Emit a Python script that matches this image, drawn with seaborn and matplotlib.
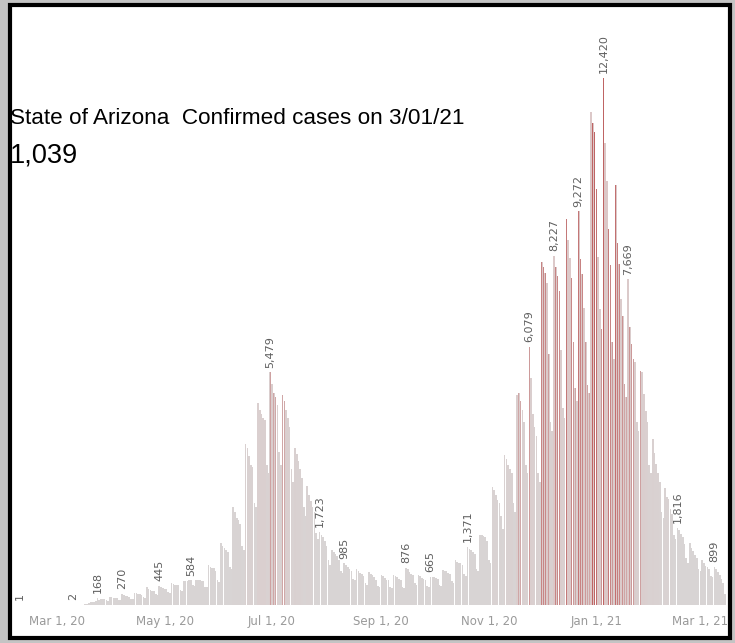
import numpy as np
import pandas as pd
import seaborn as sns
import matplotlib
matplotlib.use("Agg")
import matplotlib.pyplot as plt
from matplotlib.colors import LinearSegmentedColormap, Normalize
from matplotlib.patches import Rectangle

# daily confirmed cases, one value per day starting at start_date
start_date = "2020-02-09"
daily_cases = [
    1, 0,
    0, 0, 0, 0, 0, 0, 0,
    0, 0, 0, 0, 0, 0, 0,
    0, 0, 0, 0, 0, 0, 0,
    0, 0, 0, 0, 0, 0, 0,
    2, 0, 1, 0, 3, 5, 8,
    20, 30, 45, 60, 75, 80, 90,
    168, 120, 130, 140, 150, 110, 100,
    190, 180, 170, 165, 160, 120, 110,
    270, 230, 220, 210, 200, 150, 140,
    290, 280, 270, 250, 240, 180, 170,
    420, 380, 350, 330, 320, 260, 240,
    445, 420, 400, 380, 370, 300, 280,
    520, 500, 480, 470, 460, 360, 340,
    560, 570, 575, 580, 584, 470, 440,
    590, 585, 580, 575, 570, 430, 420,
    950, 900, 880, 860, 800, 600, 550,
    1460, 1400, 1340, 1300, 1250, 900, 850,
    2300, 2200, 2050, 2000, 1900, 1400, 1300,
    3800, 3700, 3500, 3300, 3250, 2400, 2300,
    4750, 4600, 4500, 4400, 4350, 3300, 3100,
    5479, 5200, 5000, 4900, 4700, 3600, 3300,
    4950, 4800, 4600, 4400, 4200, 3200, 2900,
    3700, 3550, 3400, 3200, 3000, 2300, 2100,
    2800, 2600, 2450, 2300, 2200, 1700, 1550,
    1723, 1650, 1600, 1500, 1400, 1050, 950,
    1300, 1250, 1200, 1150, 1050, 800, 750,
    985, 950, 900, 850, 800, 620, 580,
    850, 800, 760, 720, 680, 520, 480,
    780, 740, 700, 660, 600, 450, 420,
    700, 680, 640, 600, 580, 420, 400,
    700, 690, 660, 620, 580, 430, 400,
    876, 840, 780, 740, 700, 520, 480,
    700, 680, 640, 610, 600, 450, 420,
    665, 660, 650, 640, 620, 470, 440,
    820, 810, 790, 760, 740, 560, 520,
    1050, 1020, 1000, 980, 950, 720, 680,
    1371, 1330, 1300, 1250, 1200, 850, 800,
    1660, 1650, 1620, 1600, 1500, 1070, 1000,
    2780, 2700, 2600, 2480, 2400, 2100, 1800,
    3540, 3450, 3300, 3200, 3100, 2400, 2200,
    4950, 5000, 4800, 4600, 4300, 3290, 3100,
    6079, 5340, 4500, 4200, 3970, 3100, 2900,
    8075, 7950, 7825, 7590, 5900, 4300, 4100,
    8227, 7950, 7750, 7400, 6000, 4650, 4400,
    9090, 8600, 8180, 7710, 6200, 5100, 4800,
    9272, 8140, 7800, 7000, 6200, 5170, 5000,
    11600, 11340, 11145, 9800, 8200, 6970, 6500,
    12420, 10890, 9980, 8860, 8000, 6200, 5800,
    9900, 8530, 8040, 7200, 6800, 5200, 4900,
    7669, 6550, 6140, 5800, 5720, 4300, 4100,
    5520, 5480, 4980, 4570, 4300, 3300, 3100,
    3900, 3580, 3330, 3100, 2900, 2200, 2050,
    2750, 2540, 2500, 2250, 2150, 1650, 1550,
    1816, 1760, 1680, 1600, 1430, 1100, 1000,
    1470, 1350, 1260, 1180, 1100, 850, 800,
    1060, 1000, 930, 900, 850, 690, 650,
    899, 850, 770, 700, 620, 520, 270,
]
labelled_days = [0, 30, 44, 58, 79, 97, 142, 170, 184, 219, 233, 254,
                 289, 303, 317, 331, 345, 373, 394]
tick_dates = ["2020-03-01", "2020-05-01", "2020-07-01", "2020-09-01",
              "2020-11-01", "2021-01-01", "2021-03-01"]
tick_labels = ["Mar 1, 20", "May 1, 20", "Jul 1, 20", "Sep 1, 20",
               "Nov 1, 20", "Jan 1, 21", "Mar 1, 21"]
title_text = "State of Arizona  Confirmed cases on 3/01/21"
latest_text = "1,039"

dates = pd.date_range(start_date, periods=len(daily_cases), freq="D")
df = pd.DataFrame({"day": np.arange(len(daily_cases)), "date": dates,
                   "cases": daily_cases})
# high days get a thin darker stroke on top of the pale bar
df["accent"] = df["cases"].where(df["cases"] >= 4800, 0)

sns.set_style("white")

W, H = 735, 643
fig = plt.figure(figsize=(W / 100, H / 100), dpi=100)
fig.patch.set_facecolor("#c4c4c4")
fig.add_artist(Rectangle((10 / W, 5 / H), 720 / W, 633 / H,
                         transform=fig.transFigure, facecolor="white",
                         edgecolor="black", linewidth=3, zorder=0))

ax = fig.add_axes([14 / W, 38 / H, 714 / W, 595 / H])
ax.set_facecolor("none")

sns.barplot(data=df, x="day", y="cases", native_scale=True, width=0.92,
            color="#d6d2d2", linewidth=0, ax=ax)
n_base = len(ax.patches)
sns.barplot(data=df, x="day", y="accent", native_scale=True, width=0.38,
            color="#c47a7a", linewidth=0, ax=ax)

pale = LinearSegmentedColormap.from_list("pale", ["#d8d4d4", "#dcc8c8"])
red = LinearSegmentedColormap.from_list("red", ["#d0a8a8", "#bf6464"])
norm_pale = Normalize(vmin=1500, vmax=9000, clip=True)
norm_red = Normalize(vmin=4800, vmax=11000, clip=True)
for k, bar in enumerate(ax.patches):
    idx = int(round(bar.get_x() + bar.get_width() / 2))
    if not 0 <= idx < len(daily_cases):
        continue
    if k < n_base:
        bar.set_facecolor(pale(norm_pale(daily_cases[idx])))
    else:
        bar.set_facecolor(red(norm_red(daily_cases[idx])))

for d in labelled_days:
    v = daily_cases[d]
    ax.text(d, v + 110, f"{v:,}", rotation=90, ha="center", va="bottom",
            fontsize=8, color="#5e5e5e")

tick_pos = [int(df.index[df["date"] == pd.Timestamp(t)][0]) for t in tick_dates]
ax.set_xticks(tick_pos, tick_labels)
ax.tick_params(axis="x", length=0, labelsize=8.5, colors="#9a9a9a", pad=7)
ax.set_yticks([])
ax.set_xlim(-3.4, 401.7)
ax.set_ylim(0, 14012)
ax.set_xlabel("")
ax.set_ylabel("")
sns.despine(ax=ax, left=True, bottom=True)

fig.text(10 / W, 1 - 124 / H, title_text, fontsize=16.2,
         family="Liberation Sans", va="baseline", color="black")
fig.text(10 / W, 1 - 162 / H, latest_text, fontsize=19.5,
         family="Liberation Sans", va="baseline", color="black")

fig.savefig("out.png", dpi=100, facecolor=fig.get_facecolor())
